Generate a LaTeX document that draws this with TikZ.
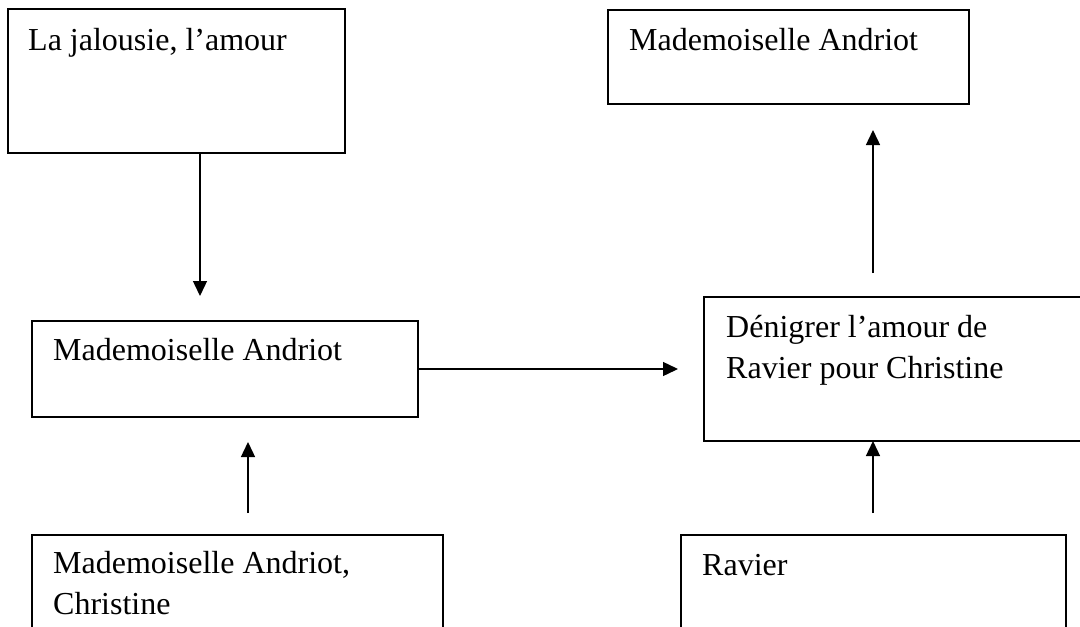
\documentclass[tikz,border=0pt]{standalone}
\usepackage{fontspec}
\setmainfont{Liberation Serif}
\usetikzlibrary{arrows.meta,calc}
\begin{document}
\begin{tikzpicture}[x=1pt,y=-1pt,
  box/.style={draw, line width=1.8pt, anchor=north west, inner sep=0pt, outer sep=0pt},
  lbl/.style={anchor=base west, inner sep=0pt, align=left, font=\fontsize{32pt}{41pt}\selectfont},
  arr/.style={line width=1.4pt, -{Triangle[length=15pt,width=14pt]}}]
\useasboundingbox (0,0) rectangle (1080,627);
\clip (0,0) rectangle (1080,627);
\fill[white] (0,0) rectangle (1080,627);
% boxes
\node[box, minimum width=337pt, minimum height=144pt] (b1) at (8,9) {};
\node[box, minimum width=361pt, minimum height=94pt] (b2) at (608,10) {};
\node[box, minimum width=386pt, minimum height=96pt] (b3) at (32,321) {};
\node[box, minimum width=390pt, minimum height=144pt] (b4) at (704,297) {};
\node[box, minimum width=411pt, minimum height=130pt] (b5) at (32,535) {};
\node[box, minimum width=385pt, minimum height=130pt] (b6) at (681,535) {};
% texts (base anchor of a two-line node is the baseline of its last line)
\node[lbl] (t1) at ($(b1.north west)+(20,41)$) {La jalousie, l’amour};
\node[lbl] (t2) at ($(b2.north west)+(21,40)$) {Mademoiselle Andriot};
\node[lbl] (t3) at ($(b3.north west)+(21,39)$) {Mademoiselle Andriot};
\node[lbl] (t4) at ($(b4.north west)+(22,81)$) {Dénigrer l’amour de\\Ravier pour Christine};
\node[lbl] (t5) at ($(b5.north west)+(21,79)$) {Mademoiselle Andriot,\\Christine};
\node[lbl] (t6) at ($(b6.north west)+(21,40)$) {Ravier};
% connectors
\draw[arr] ($(b1.south west)+(192,0)$) -- ($(b3.north west)+(168,-25)$);
\draw[arr] (b3.east) -- ($(b3.east -| b4.west)+(-26,0)$);
\draw[arr] ($(b4.north west)+(169,-24)$) -- ($(b2.south west)+(265,26)$);
\draw[arr] ($(b5.north west)+(216,-22)$) -- ($(b3.south west)+(216,25)$);
\draw[arr] ($(b6.north west)+(192,-22)$) -- ($(b4.south west)+(169,0)$);
\end{tikzpicture}
\end{document}
